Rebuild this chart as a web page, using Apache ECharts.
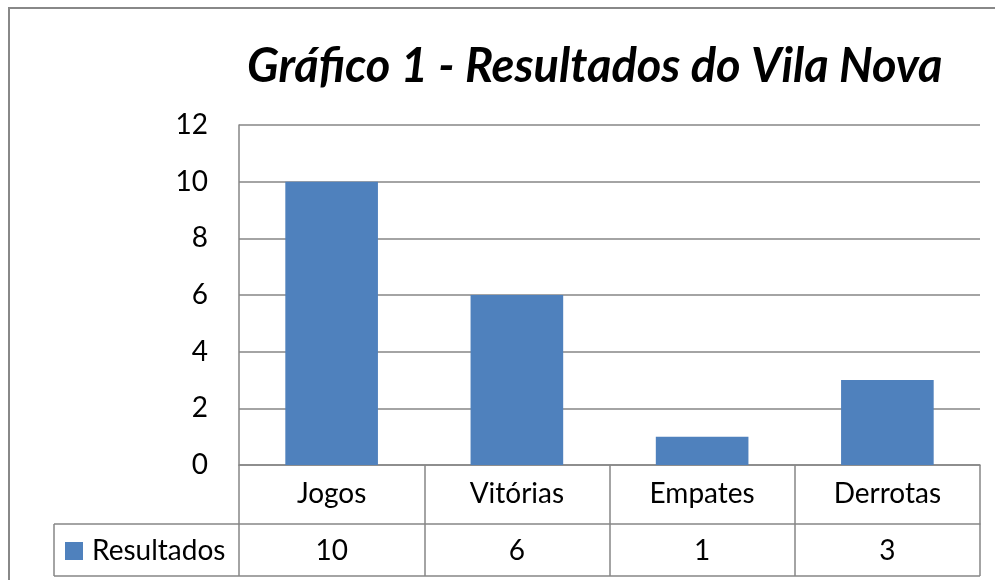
<!DOCTYPE html>
<html>
<head>
<meta charset="utf-8">
<script src="https://cdn.jsdelivr.net/npm/echarts@6/dist/echarts.min.js"></script>
<style>
  html, body { margin: 0; padding: 0; background: #fff; }
  #chart { width: 995px; height: 580px; }
</style>
</head>
<body>
<div id="chart"></div>
<script>
const TITLE = 'Gráfico 1 - Resultados do Vila Nova'
const SERIES_NAME = 'Resultados'
const categories = ['Jogos', 'Vitórias', 'Empates', 'Derrotas']
const values = [10, 6, 1, 3]

const FONT = 'Lato, "Open Sans", sans-serif'
const LINE = '#868686'

const chart = echarts.init(document.getElementById('chart'), null, { renderer: 'canvas' })

chart.setOption({
  animation: false,
  textStyle: { fontFamily: FONT, color: '#000' },
  title: {
    text: TITLE,
    left: 242,
    top: 38,
    textStyle: {
      fontFamily: FONT,
      fontSize: 47,
      fontWeight: 'bold',
      fontStyle: 'italic',
      color: '#000'
    }
  },
  legend: {
    data: [SERIES_NAME],
    left: 65,
    top: 537,
    padding: 0,
    itemWidth: 18,
    itemHeight: 18,
    icon: 'rect',
    textStyle: { fontFamily: FONT, fontSize: 28, color: '#000', padding: [0, 0, 0, 4] }
  },
  grid: { left: 239, right: 15, top: 125, bottom: 115 },
  xAxis: [
    {
      type: 'category',
      data: categories,
      position: 'bottom',
      axisLine: { show: true, lineStyle: { color: LINE, width: 1.5 } },
      axisTick: { show: true, length: 111, lineStyle: { color: LINE, width: 1.5 } },
      axisLabel: { fontFamily: FONT, fontSize: 28, color: '#000', margin: 15 },
      splitLine: { show: false }
    },
    {
      type: 'category',
      data: values.map(String),
      position: 'bottom',
      offset: 59,
      axisLine: { show: true, lineStyle: { color: LINE, width: 1.5 } },
      axisTick: { show: false },
      axisLabel: { fontFamily: FONT, fontSize: 28, color: '#000', margin: 13 },
      splitLine: { show: false }
    }
  ],
  yAxis: {
    type: 'value',
    min: 0,
    max: 12,
    interval: 2,
    axisLine: { show: true, lineStyle: { color: LINE, width: 1.5 } },
    axisTick: { show: false },
    axisLabel: { fontFamily: FONT, fontSize: 28, color: '#000', margin: 31 },
    splitLine: { lineStyle: { color: LINE, width: 1.5 } }
  },
  series: [
    {
      name: SERIES_NAME,
      type: 'bar',
      data: values,
      barWidth: '50%',
      itemStyle: { color: '#4F81BD' }
    }
  ],
  graphic: [
    // outer chart border (cut off at right/bottom)
    { type: 'rect', shape: { x: 9, y: 8, width: 1000, height: 600 }, style: { fill: 'none', stroke: '#888', lineWidth: 2 }, silent: true },
    // legend cell of data table
    { type: 'line', shape: { x1: 54, y1: 524, x2: 239, y2: 524 }, style: { stroke: LINE, lineWidth: 1.5 } },
    { type: 'line', shape: { x1: 54, y1: 576, x2: 980, y2: 576 }, style: { stroke: LINE, lineWidth: 1.5 } },
    { type: 'line', shape: { x1: 54, y1: 524, x2: 54, y2: 576 }, style: { stroke: LINE, lineWidth: 1.5 } }
  ]
})
</script>
</body>
</html>
